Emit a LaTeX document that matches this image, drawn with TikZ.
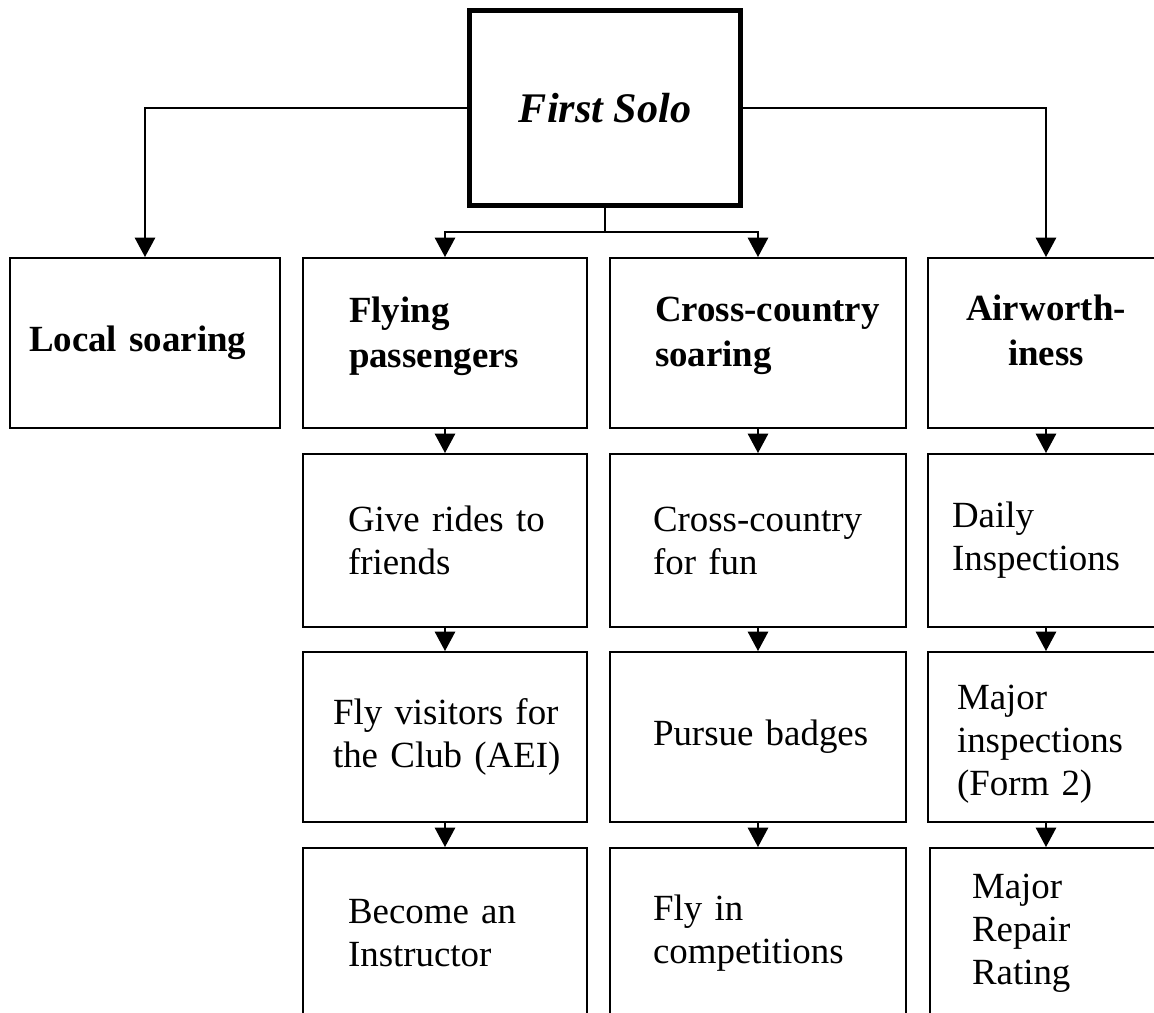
\documentclass[tikz,border=0pt]{standalone}
\usepackage{fontspec}
\setmainfont{Liberation Serif}
\usetikzlibrary{arrows.meta}
\begin{document}
\begin{tikzpicture}[x=0.02cm, y=-0.02cm,
    box/.style={draw, line width=1.1pt, inner sep=0pt, minimum height=3.4cm, align=left,
      font=\fontsize{21pt}{24.5pt}\selectfont},
    head/.style={box, font=\fontsize{21pt}{25.5pt}\selectfont\bfseries},
    lifted/.style={text depth=#1},
    paxcol/.style={minimum width=5.68cm},
    xccol/.style={minimum width=5.92cm},
    awcol/.style={minimum width=4.72cm},
    arr/.style={line width=1.1pt, -{Triangle[width=11.5pt,length=11pt]}}]
\useasboundingbox (0,0) rectangle (1154,1013);
\node[draw, line width=2.85pt, minimum width=5.41cm, minimum height=3.92cm,
  font=\fontsize{24pt}{28pt}\selectfont\bfseries\itshape] (solo) at (605,108) {First Solo};
\node[head, minimum width=5.4cm, text width=4.64cm] (local) at (145,343) {Local~soaring};
\node[head, paxcol, text width=3.84cm, lifted=38pt] (pax1) at (445,343) {Flying\\passengers};
\node[head, xccol, text width=4.12cm, lifted=38pt] (xc1) at (758,343) {\mbox{Cross-country}\\soaring};
\node[head, awcol, text width=3.92cm, align=center, lifted=40pt] (aw1) at (1046,343) {Airworth-\\iness};
\node[box, paxcol, minimum height=3.46cm, text width=3.88cm] (pax2) at (445,540.5) {Give~rides~to\\friends};
\node[box, paxcol, text width=4.48cm] (pax3) at (445,737) {\mbox{Fly visitors for}\\\mbox{the Club (AEI)}};
\node[box, paxcol, text width=3.88cm] (pax4) at (445,933) {Become~an\\Instructor};
\node[box, xccol, minimum height=3.46cm, text width=4.2cm] (xc2) at (758,540.5) {\mbox{Cross-country}\\for~fun};
\node[box, xccol, text width=4.2cm] (xc3) at (758,737) {Pursue~badges};
\node[box, xccol, text width=4.2cm] (xc4) at (758,933) {Fly~in\\competitions};
\node[box, awcol, minimum height=3.46cm, text width=3.76cm] (aw2) at (1046,540.5) {Daily\\Inspections};
\node[box, awcol, text width=3.56cm, lifted=45pt] (aw3) at (1046,737) {Major\\inspections\\(Form~2)};
\node[box, minimum width=4.64cm, text width=2.96cm] (aw4) at (1046,933) {Major\\Repair\\Rating};
\draw[arr] (solo.west) -| (local.north);
\draw[arr] (solo.east) -| (aw1.north);
\coordinate (split) at (605,232);
\draw[line width=1.1pt] (solo.south) -- (split);
\draw[arr] (split) -| (pax1.north);
\draw[arr] (split) -| (xc1.north);
\foreach \col in {pax,xc,aw}
  \foreach \i/\j in {1/2,2/3,3/4}
    \draw[arr] (\col\i) -- (\col\j);
\end{tikzpicture}
\end{document}
